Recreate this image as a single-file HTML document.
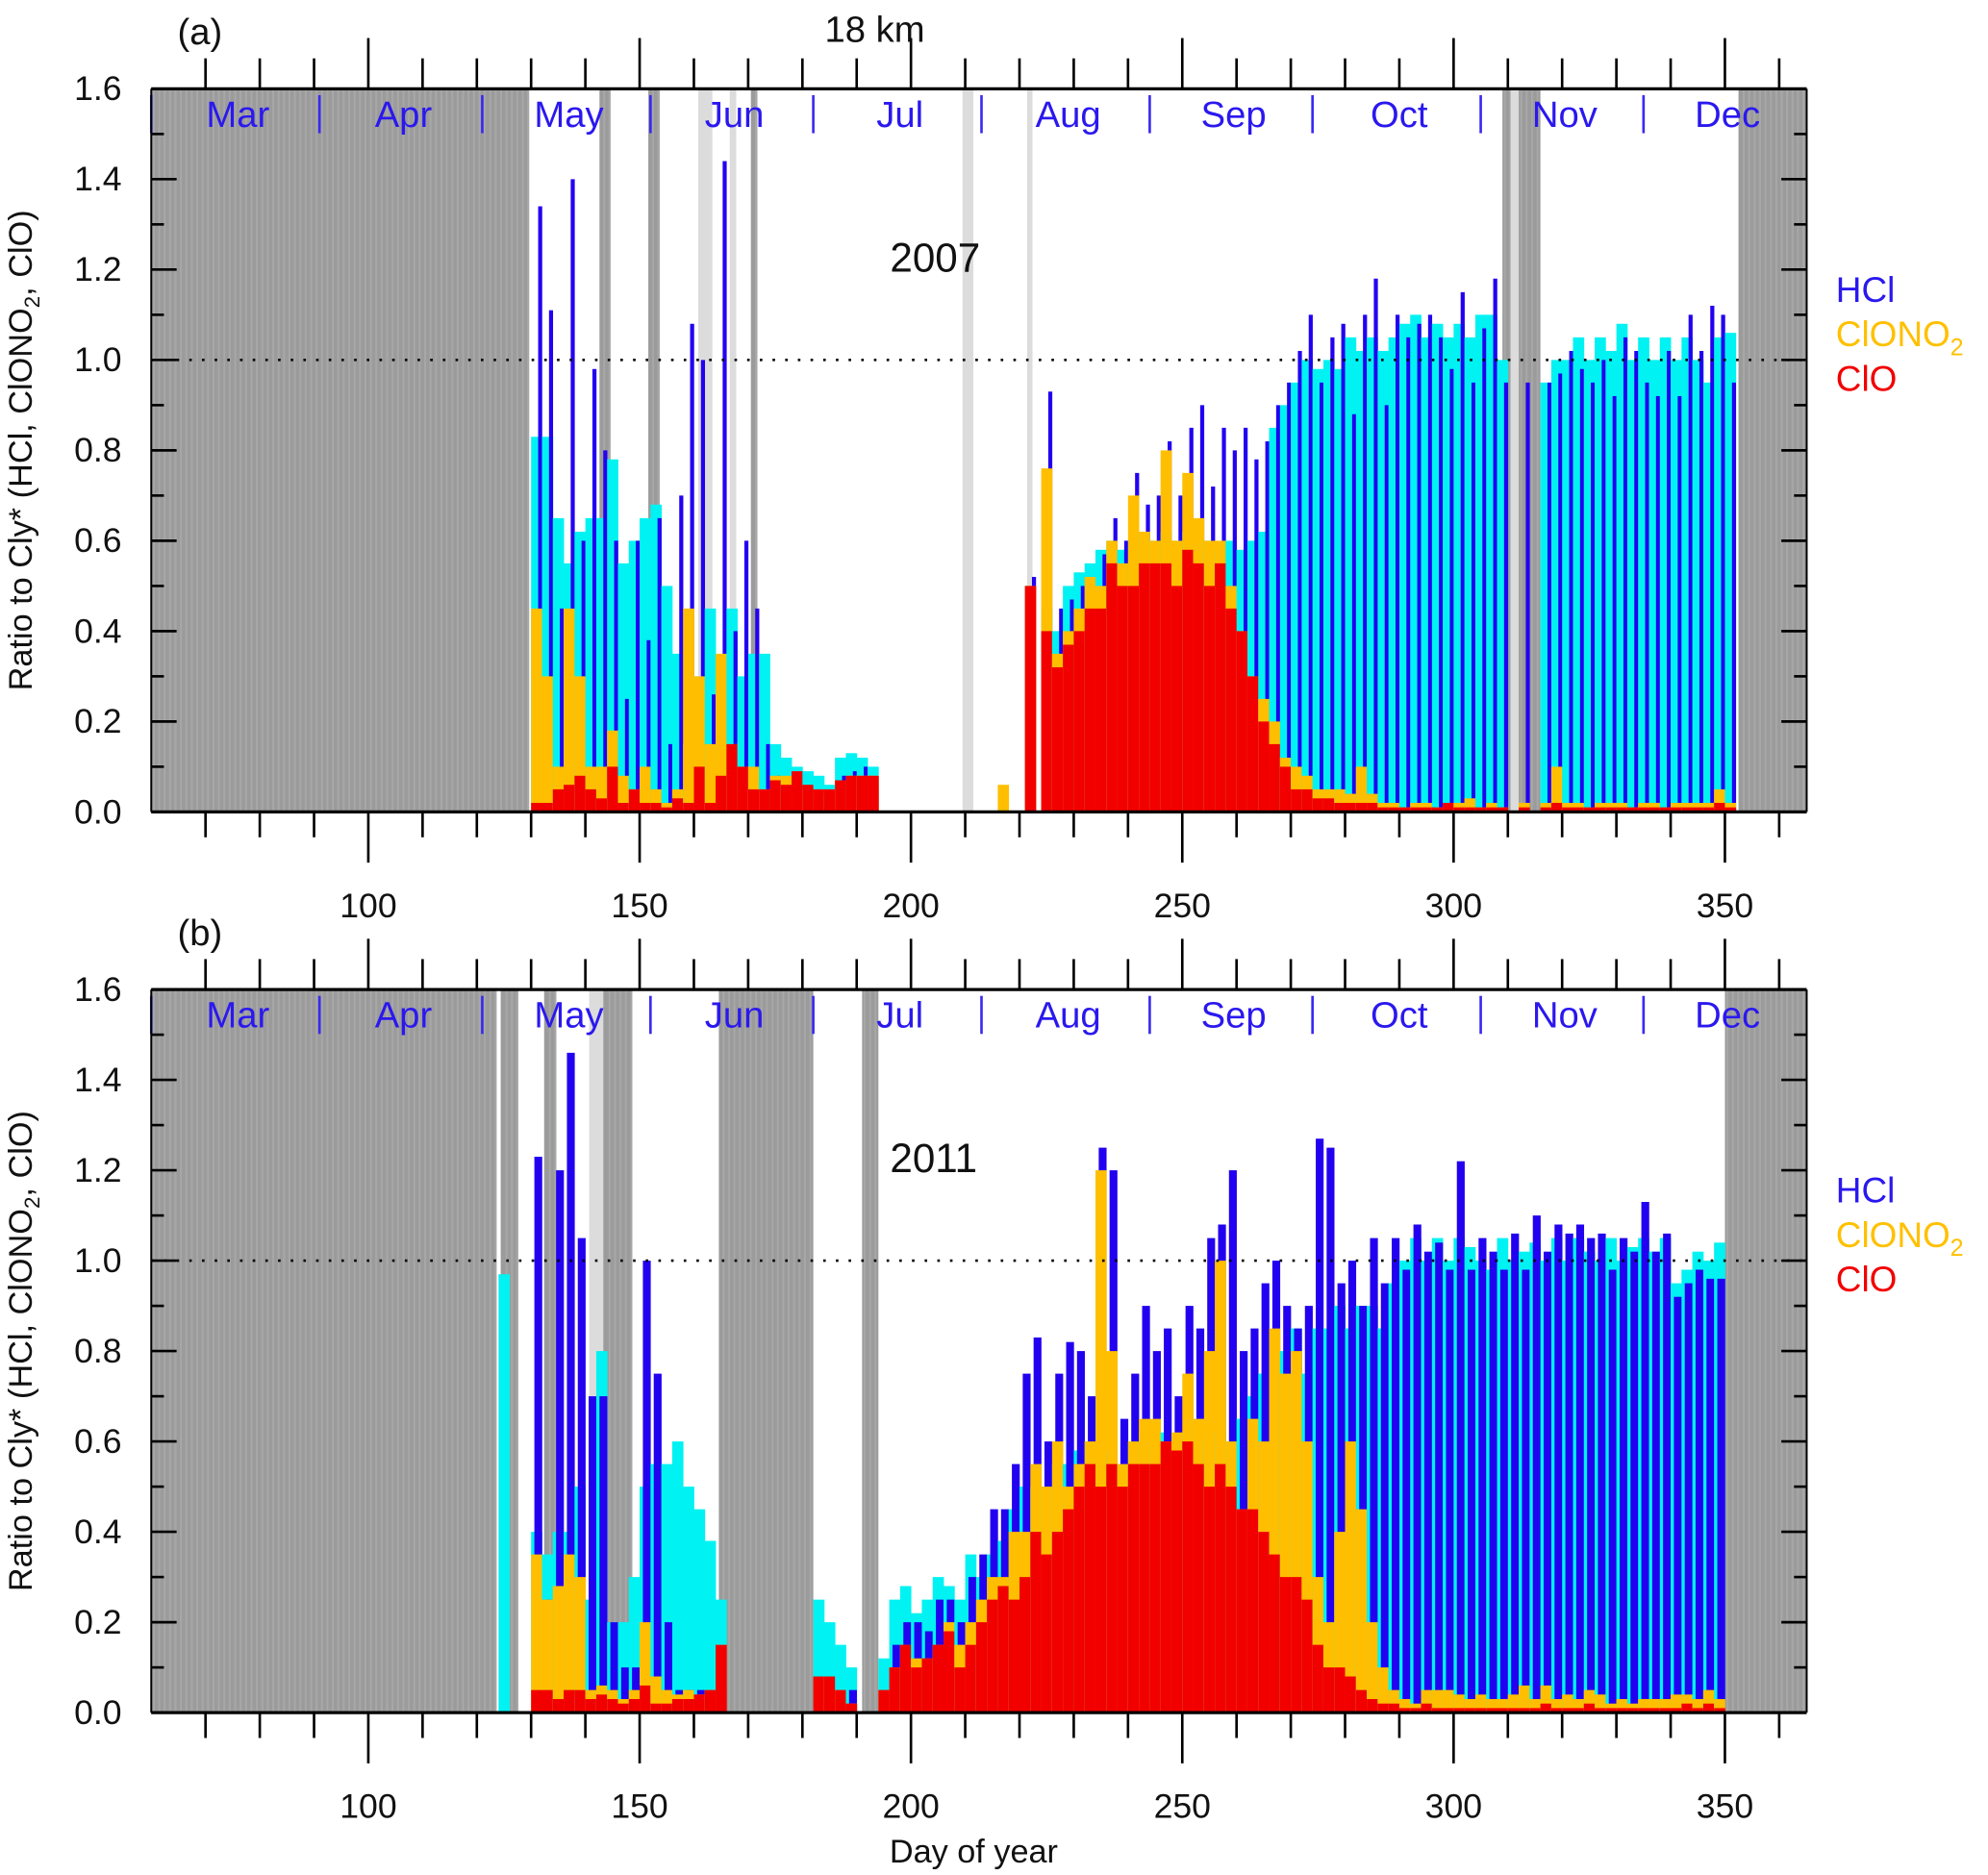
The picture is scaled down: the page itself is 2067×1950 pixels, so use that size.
<!DOCTYPE html>
<html><head><meta charset="utf-8"><style>
html,body{margin:0;padding:0;background:#fff}
svg{display:block}
text{font-family:"Liberation Sans","DejaVu Sans",sans-serif}
</style></head><body>
<svg id="chart" width="2067" height="1950" viewBox="0 0 1568 1478" preserveAspectRatio="none" xmlns="http://www.w3.org/2000/svg">
<g id="layer"></g>
</svg>
<script>
// ---- Data (ratio to Cly*) per 2-day pair: [cyan top (day d), blue HCl top (day d+1), ClONO2 top, ClO top]
const daysA = [130,132,134,136,138,140,142,144,146,148,150,152,154,156,158,160,162,164,166,168,170,172,174,176,178,180,182,184,186,188,190,192,216,221,224,226,228,230,232,234,236,238,240,242,244,246,248,250,252,254,256,258,260,262,264,266,268,270,272,274,276,278,280,282,284,286,288,290,292,294,296,298,300,302,304,306,308,312,316,318,320,322,324,326,328,330,332,334,336,338,340,342,344,346,348,350];
const cyanA = [0.83,0.83,0.65,0.55,0.62,0.65,0.65,0.78,0.55,0.6,0.65,0.68,0.5,0.35,0.15,0.3,0.45,0.3,0.45,0.3,0.35,0.35,0.15,0.12,0.1,0.09,0.08,0.06,0.12,0.13,0.12,0.1,0,0.5,0.45,0.4,0.5,0.53,0.55,0.58,0.6,0.58,0.6,0.62,0.6,0.62,0.6,0.62,0.6,0.6,0.58,0.6,0.58,0.6,0.62,0.85,0.9,0.95,1.0,0.98,1.0,0.98,1.05,1.02,1.05,1.02,1.05,1.08,1.1,1.05,1.08,1.05,1.08,1.05,1.1,1.1,1.0,0,0.95,1.0,1.0,1.05,1.0,1.05,1.02,1.08,1.0,1.05,1.0,1.05,1.0,1.05,1.0,0.95,1.05,1.06];
const hclA = [1.34,1.11,0.45,1.4,0.6,0.98,0.8,0.6,0.25,0.6,0.38,0.65,0.15,0.7,1.08,1.0,0.26,1.44,0.4,0.6,0.45,0.15,0.08,0.05,0.05,0.05,0.04,0.04,0.08,0.09,0.1,0.05,0,0.52,0.93,0.45,0.47,0.5,0.5,0.57,0.65,0.6,0.75,0.68,0.7,0.82,0.7,0.85,0.9,0.72,0.85,0.8,0.85,0.78,0.82,0.9,0.95,1.02,1.1,0.95,1.05,1.08,0.88,1.1,1.18,0.9,1.1,1.05,1.08,1.1,1.05,0.98,1.15,0.95,1.07,1.18,0.95,0.95,0.95,0.97,1.02,0.98,0.95,1.0,0.92,1.05,1.02,0.95,0.92,1.02,0.92,1.1,1.02,1.12,1.1,0.95];
const clono2A = [0.45,0.3,0.1,0.45,0.3,0.1,0.1,0.18,0.08,0.05,0.1,0.05,0.02,0.05,0.45,0.3,0.15,0.35,0.15,0.1,0.1,0.05,0.08,0.08,0.05,0.05,0.04,0.04,0.07,0.08,0.08,0.08,0.06,0.5,0.76,0.35,0.4,0.45,0.52,0.5,0.6,0.55,0.7,0.62,0.6,0.8,0.6,0.75,0.65,0.6,0.6,0.5,0.4,0.3,0.25,0.2,0.12,0.1,0.08,0.05,0.05,0.05,0.04,0.1,0.04,0.02,0.02,0.01,0.02,0.02,0.01,0.02,0.02,0.03,0.01,0.02,0.01,0.02,0.02,0.1,0.02,0.02,0.01,0.02,0.02,0.02,0.01,0.02,0.02,0.01,0.02,0.02,0.02,0.02,0.05,0.02];
const cloA = [0.02,0.02,0.05,0.06,0.08,0.05,0.03,0.1,0.02,0.05,0.02,0.02,0.01,0.03,0.02,0.1,0.02,0.08,0.15,0.1,0.05,0.05,0.07,0.06,0.09,0.06,0.05,0.05,0.07,0.08,0.08,0.08,0,0.5,0.4,0.32,0.37,0.4,0.45,0.45,0.55,0.5,0.5,0.55,0.55,0.55,0.5,0.58,0.55,0.5,0.55,0.45,0.4,0.3,0.2,0.15,0.1,0.05,0.05,0.03,0.03,0.02,0.02,0.02,0.02,0.01,0.01,0.01,0.01,0.01,0.01,0.02,0.01,0.01,0.01,0.01,0.01,0.01,0.01,0.02,0.01,0.01,0.01,0.01,0.01,0.01,0.01,0.01,0.01,0.01,0.01,0.01,0.01,0.01,0.02,0.01];

const daysB = [124,130,132,134,136,138,140,142,144,146,148,150,152,154,156,158,160,162,164,182,184,186,188,194,196,198,200,202,204,206,208,210,212,214,216,218,220,222,224,226,228,230,232,234,236,238,240,242,244,246,248,250,252,254,256,258,260,262,264,266,268,270,272,274,276,278,280,282,284,286,288,290,292,294,296,298,300,302,304,306,308,310,312,314,316,318,320,322,324,326,328,330,332,334,336,338,340,342,344,346,348];
const cyanB = [0.97,0.4,0.35,0.4,0.4,0.5,0.25,0.8,0.2,0.2,0.3,0.5,0.55,0.55,0.6,0.5,0.45,0.38,0.25,0.25,0.2,0.15,0.1,0.12,0.25,0.28,0.22,0.25,0.3,0.28,0.25,0.35,0.3,0.35,0.38,0.45,0.5,0.5,0.5,0.55,0.55,0.58,0.6,0.6,0.58,0.55,0.6,0.62,0.6,0.62,0.6,0.62,0.65,0.6,0.62,0.6,0.65,0.7,0.75,0.8,0.8,0.85,0.75,0.85,0.85,0.9,0.85,0.9,0.9,0.85,0.95,1.0,1.05,1.0,1.05,1.0,1.05,1.03,1.0,0.98,1.05,1.0,1.02,1.04,1.0,1.05,1.0,1.05,1.02,1.0,1.05,1.0,1.03,1.05,1.02,1.05,0.95,0.98,1.02,1.0,1.04];
const hclB = [0,1.23,0.25,1.2,1.46,1.05,0.7,0.7,0.2,0.1,0.1,1.0,0.75,0.2,0.05,0.05,0.05,0.05,0.05,0.05,0.05,0.05,0.05,0.05,0.15,0.2,0.2,0.18,0.25,0.25,0.2,0.3,0.35,0.45,0.45,0.55,0.75,0.83,0.6,0.75,0.82,0.8,0.7,1.25,1.2,0.65,0.75,0.9,0.8,0.85,0.7,0.9,0.85,1.05,1.08,1.2,0.8,0.85,0.95,1.0,0.9,0.85,0.9,1.27,1.25,0.95,1.0,0.9,1.05,0.95,1.05,0.98,1.08,1.02,1.04,0.98,1.22,0.98,1.05,1.02,0.98,1.06,0.98,1.1,1.02,1.08,1.06,1.08,1.05,1.06,0.98,1.05,1.02,1.13,1.02,1.06,0.92,0.95,0.98,0.96,0.96];
const clono2B = [0,0.35,0.25,0.28,0.35,0.3,0.05,0.06,0.05,0.03,0.05,0.2,0.08,0.05,0.04,0.05,0.04,0.05,0.15,0.08,0.08,0.05,0.02,0.05,0.1,0.15,0.12,0.12,0.15,0.2,0.15,0.2,0.25,0.3,0.3,0.4,0.4,0.55,0.5,0.6,0.5,0.55,0.6,1.2,0.8,0.55,0.6,0.65,0.65,0.6,0.62,0.75,0.65,0.8,1.0,0.6,0.45,0.65,0.6,0.85,0.75,0.8,0.6,0.3,0.2,0.4,0.6,0.45,0.2,0.1,0.05,0.03,0.02,0.05,0.05,0.05,0.04,0.03,0.04,0.03,0.03,0.04,0.06,0.03,0.06,0.03,0.04,0.03,0.05,0.04,0.02,0.03,0.02,0.03,0.03,0.03,0.04,0.04,0.03,0.05,0.03];
const cloB = [0,0.05,0.05,0.03,0.05,0.05,0.03,0.04,0.03,0.02,0.03,0.06,0.02,0.02,0.03,0.03,0.04,0.05,0.15,0.08,0.08,0.05,0.02,0.05,0.1,0.15,0.1,0.12,0.15,0.18,0.1,0.15,0.2,0.25,0.28,0.25,0.3,0.4,0.35,0.4,0.45,0.5,0.55,0.5,0.55,0.5,0.55,0.55,0.55,0.6,0.58,0.6,0.55,0.5,0.55,0.5,0.45,0.45,0.4,0.35,0.3,0.3,0.25,0.15,0.1,0.1,0.08,0.05,0.03,0.02,0.02,0.01,0.01,0.02,0.01,0.01,0.01,0.01,0.01,0.01,0.01,0.01,0.01,0.01,0.02,0.01,0.01,0.01,0.02,0.01,0.01,0.01,0.01,0.01,0.01,0.01,0.01,0.02,0.01,0.02,0.01];

// shaded regions [start, end, type]
const shadeA = [[60,129.4,'d'],[142.6,144.5,'d'],[151.6,153.7,'d'],[160.8,163.4,'l'],[166.6,167.8,'l'],[170.5,171.7,'d'],[209.5,211.5,'l'],[221.4,222.4,'l'],[309,310.5,'d'],[310.5,312,'l'],[312,316,'d'],[352.5,365,'d']];
const shadeB = [[60,123.6,'d'],[124.4,127.4,'d'],[132.4,134.5,'d'],[140.7,143.3,'l'],[143.3,148.6,'d'],[164.6,182,'d'],[191,194,'d'],[350,365,'d']];

const months = ['Mar','Apr','May','Jun','Jul','Aug','Sep','Oct','Nov','Dec'];
const monthStart = [60,91,121,152,182,213,244,274,305,335];
const yTicks = [0.0,0.2,0.4,0.6,0.8,1.0,1.2,1.4,1.6];
const xLabels = [100,150,200,250,300,350];

const NS='http://www.w3.org/2000/svg';
const layer=document.getElementById('layer');
const X0=119.3, PXD=4.28, DMIN=60, DMAX=365;
const xs=d=>X0+(d-DMIN)*PXD;
function mk(tag,attrs,parent){const e=document.createElementNS(NS,tag);for(const k in attrs)e.setAttribute(k,attrs[k]);(parent||layer).appendChild(e);return e;}

function panel(top,label,year,days,cy,bl,or,rd,shade,pname,blueW){
  const bot=top+570, ys=v=>bot-v*356.25;
  const g=mk('g',{});
  
  
  shade.forEach(s=>{
    const r=mk('rect',{x:xs(s[0]),y:top,width:xs(s[1])-xs(s[0]),height:570,fill:s[2]==='d'?'#9b9b9b':'#dcdcdc'},g);
    
    
    if(s[2]==='d'){for(let d=Math.ceil(s[0]);d<s[1];d++){mk('rect',{x:xs(d)+1.2,y:top,width:1.6,height:570,fill:'#a7a7a7'},g);}}
  });
  const w=PXD;
  days.forEach((d,i)=>{
    const draw=(x0,wd,v,col,nm)=>{if(v<=0)return;const r=mk('rect',{x:x0,y:ys(v),width:wd,height:bot-ys(v),fill:col},g);
      
      };
    draw(xs(d),2*w+0.3,cy[i],'#00f2f2','bar-total');
    draw(xs(d+2)-blueW*w,blueW*w+0.2,bl[i],'#2200f0','bar-hcl');
    draw(xs(d),2*w+0.3,or[i],'#ffbf00','bar-clono2');
    draw(xs(d),2*w+0.3,rd[i],'#f20000','bar-clo');
  });
  const dl=mk('line',{x1:X0,x2:1425,y1:ys(1),y2:ys(1),stroke:'#000','stroke-width':2,'stroke-dasharray':'2,8'},g);
  
  
  months.forEach((m,i)=>{
    mk('line',{x1:xs(monthStart[i]),x2:xs(monthStart[i]),y1:top+5,y2:top+35,stroke:'#3a2af0','stroke-width':2},g);
    const end=i+1<monthStart.length?monthStart[i+1]:365;
    const t=mk('text',{x:xs((monthStart[i]+end)/2)+2,y:top+30,'font-size':29,fill:'#2a18ee','text-anchor':'middle'},g);
    t.textContent=m;
    
    
  });
  mk('line',{x1:X0,x2:1425,y1:top,y2:top,stroke:'#000','stroke-width':2.5},g);
  mk('line',{x1:X0,x2:1425,y1:bot,y2:bot,stroke:'#000','stroke-width':2.5},g);
  mk('line',{x1:X0,x2:X0,y1:top,y2:bot,stroke:'#000','stroke-width':1.5},g);
  mk('line',{x1:1425,x2:1425,y1:top,y2:bot,stroke:'#000','stroke-width':1.5},g);
  for(let d=70;d<=360;d+=10){
    const big=d%50===0;const x=xs(d);
    mk('line',{x1:x,x2:x,y1:top,y2:top-(big?40:24),stroke:'#000','stroke-width':2},g);
    mk('line',{x1:x,x2:x,y1:bot,y2:bot+(big?40:20),stroke:'#000','stroke-width':2},g);
  }
  xLabels.forEach(v=>{const t=mk('text',{x:xs(v),y:bot+83,'font-size':27,'text-anchor':'middle',fill:'#111'},g);t.textContent=v;
    
    });
  for(let v=0;v<=1.6001;v+=0.1){
    const major=Math.round(v*10)%2===0;
    mk('line',{x1:X0,x2:X0+(major?20:10),y1:ys(v),y2:ys(v),stroke:'#000','stroke-width':2},g);
    mk('line',{x1:1425,x2:1425-(major?20:10),y1:ys(v),y2:ys(v),stroke:'#000','stroke-width':2},g);
  }
  yTicks.forEach(v=>{const t=mk('text',{x:96,y:ys(v)+9,'font-size':27,'text-anchor':'end',fill:'#111'},g);t.textContent=v.toFixed(1);
    
    });
  const yt=mk('text',{x:0,y:0,'font-size':26,'text-anchor':'middle',fill:'#111',transform:`translate(25,${top+285}) rotate(-90)`},g);
  yt.innerHTML='Ratio to Cly* (HCl, ClONO<tspan font-size="17" dy="6">2</tspan><tspan dy="-6">, ClO)</tspan>';
  
  
  const pl=mk('text',{x:140,y:top-35,'font-size':29,fill:'#111'},g);pl.textContent=label;
  
  
  const yr=mk('text',{x:702,y:top+144,'font-size':32,fill:'#111'},g);yr.textContent=year;
  
  
  const lg=[['HCl','#2a18ee',0],['ClONO2','#ffc000',35],['ClO','#f20000',70]];
  lg.forEach(l=>{const t=mk('text',{x:1448,y:top+168+l[2],'font-size':28,fill:l[1]},g);
    if(l[0]==='ClONO2')t.innerHTML='ClONO<tspan font-size="19" dy="7">2</tspan>';else t.textContent=l[0];
    
    });
}
panel(70,'(a)','2007',daysA,cyanA,hclA,clono2A,cloA,shadeA,'panel-a-2007',0.7);
panel(780,'(b)','2011',daysB,cyanB,hclB,clono2B,cloB,shadeB,'panel-b-2011',1.4);
const t1=mk('text',{x:690,y:33,'font-size':29,'text-anchor':'middle',fill:'#111'});t1.textContent='18 km';


const t2=mk('text',{x:768,y:1468,'font-size':26,'text-anchor':'middle',fill:'#111'});t2.textContent='Day of year';


</script>
</body></html>
